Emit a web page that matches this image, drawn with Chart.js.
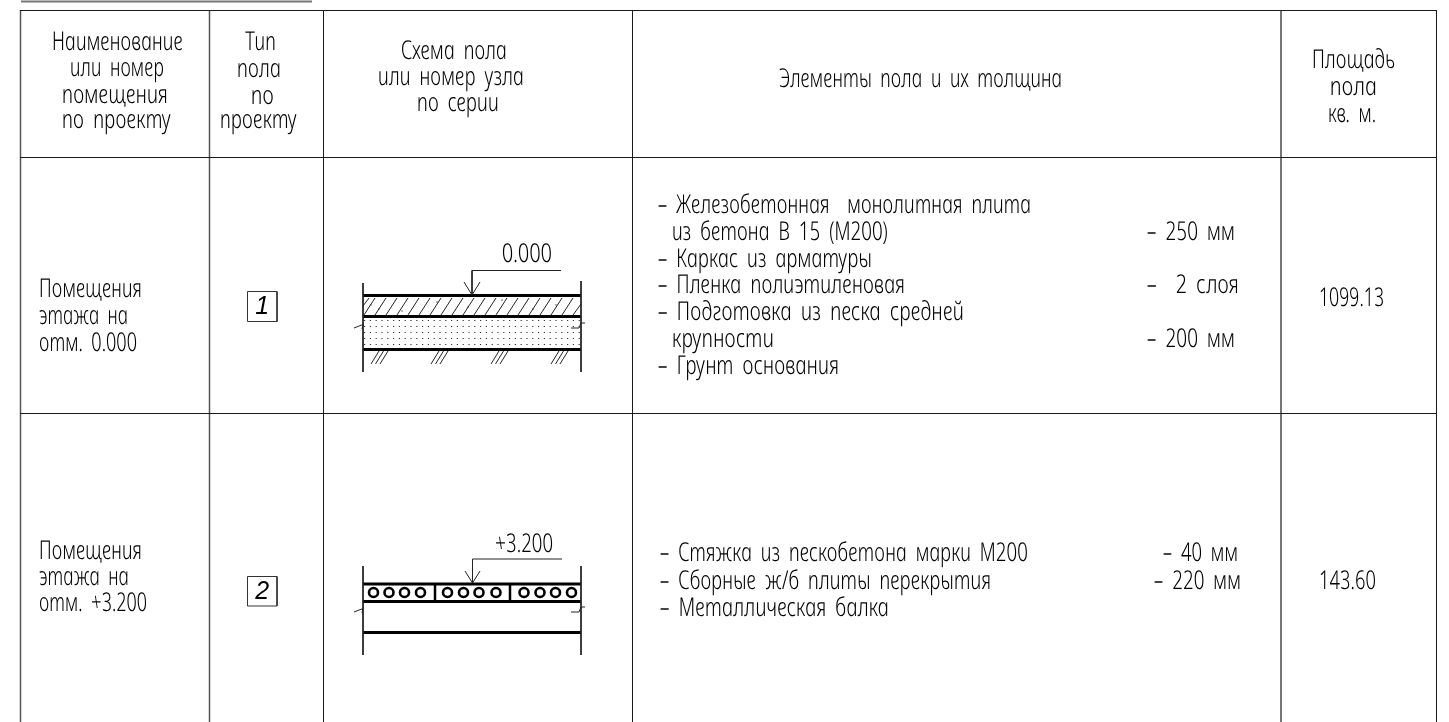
<!DOCTYPE html>
<html lang="ru"><head><meta charset="utf-8">
<style>html,body{margin:0;padding:0;background:#fff}canvas{display:block}</style>
<script src="https://cdn.jsdelivr.net/npm/chart.js@4/dist/chart.umd.min.js"></script>
</head><body><canvas id="c" width="1449" height="722"></canvas>
<script>
// ---------- texts ----------
const headerName = ["Наименование","или номер","помещения","по проекту"];
const headerType = ["Тип","пола","по","проекту"];
const headerScheme = ["Схема пола","или номер узла","по серии"];
const headerElements = ["Элементы пола и их толщина"];
const headerArea = ["Площадь","пола","кв. м."];
const roomNames1 = ["Помещения","этажа на","отм. 0.000"];
const roomNames2 = ["Помещения","этажа на","отм. +3.200"];
const floorTypes = ["1","2"];
const levels = ["0.000","+3.200"];
const areas = ["1099.13","143.60"];
const elements1 = ["– Железобетонная  монолитная плита","из бетона В 15 (М200)","– Каркас из арматуры","– Пленка полиэтиленовая","– Подготовка из песка средней","крупности","– Грунт основания"];
const thickness1 = ["– 250 мм","–  2 слоя","– 200 мм"];
const elements2 = ["– Стяжка из пескобетона марки М200","– Сборные ж/б плиты перекрытия","– Металлическая балка"];
const thickness2 = ["– 40 мм","– 220 мм"];
// ---------- drawing values ----------
const gridDark = [[20,10.5,1436,10.5],[20,157.5,1436,157.5],[20,413.5,1436,413.5],[323.5,10,323.5,722],[632.5,10,632.5,722],[1436.5,10,1436.5,722]];
const gridSoft = [[20.5,10,20.5,722],[209.5,10,209.5,722]];
const gridHeavy = [[1281,10,1281,722],[21,1.5,312,1.5]];
const thickLines = [[363,295.5,581,295.5],[363,316.5,581,316.5],[363,349.5,581,349.5],[363,584,581,584],[363,601.5,581,601.5],[363,632.5,581,632.5]];
const thinLines = [[363,283,363,372],[581,281,581,372],[363,566,363,655],[581,566,581,655],
 [472,270.5,561,270.5],[472,270.5,472,295],[464,282,472,295],[480,282,472,295],
 [472.5,559,562,559],[472.5,559,472.5,583],[465,571,472.5,583],[480,571,472.5,583],
 [354,328,363,324.5],[363,324.5,362,329],[581,323,579,328],[579,328,571,328],[581,323,585,323],
 [354,612,363,608.5],[363,608.5,362,613],[581,607,579,612],[579,612,571,612],[581,607,585,607]];
const dividers = [[435,585,435,601],[510,585,510,601]];
const hatchBottom = [364,375,386,397,408,419,430,441,452,463,474,485,496,507,518,529,540,551,562];
const soilStart = [371,375.5,380,431,435.5,440,491,495.5,500,551,555.5,560];
const sandRows = [320.5,326.5,332.5,338.5,344.5];
const voidX = [373.5,389,404.5,420.5,447.5,463.5,479,496,524,540,555.5,571.5];
const hatchDotX = [371,379,402,437,468,502,533,556];
const hatchDotY = [305,309,311,302,307,300,309,305];
const typeBoxes = [[247.5,291.5,277,321.5],[247.5,576.5,277,606]];
// ---------- text layout: [first x, last x, baseline] per line ----------
const gap = {x:null,y:null};
const lines = s => s.flatMap(a=>[{x:a[0],y:a[1]},{x:a[2],y:a[3]},gap]);
const txt = (list,spec)=>list.map((t,i)=>({t,x0:spec[i][0],x1:spec[i][1],y:spec[i][2]}));
const textItems = [
 ...txt(headerName,[[53,184,50],[71,165,76],[63,169,103],[63,172,128]]),
 ...txt(headerType,[[246,277,50],[238,282,77],[252,275,104],[221,298,128]]),
 ...txt(headerScheme,[[402,508,59],[379,525,85],[418,500,111]]),
 ...txt(headerElements,[[780,1063,87]]),
 ...txt(headerArea,[[1313,1396,68],[1331,1378,95],[1329,1377,122]]),
 ...txt(roomNames1,[[40,143,297],[40,129,324],[40,138,351]]),
 ...txt(roomNames2,[[40,143,559],[40,130,585],[40,148,611]]),
 ...txt(levels,[[503,553,262],[496,554,552]]),
 ...txt(areas,[[1320,1385,306],[1320,1377,589]]),
 ...txt(elements1,[[659,1032,213],[673,889,240],[659,873,267],[659,906,293],[659,965,320],[673,775,347],[659,840,374]]),
 ...txt(thickness1,[[1148,1236,240],[1148,1240,293],[1148,1236,347]]),
 ...txt(elements2,[[661,1029,561],[661,992,589],[661,890,616]]),
 ...txt(thickness2,[[1164,1239,561],[1155,1242,589]])
];
const line = (data,w,c,extra={})=>Object.assign({type:'scatter',showLine:true,data,borderColor:c,borderWidth:w,pointRadius:0,spanGaps:false,tension:0,borderCapStyle:'butt'},extra);
const hatch = hatchBottom.map(x=>[x,315,x+11,298]).concat([[363,306,369,298],[573,315,581,304]]);
const soil = soilStart.map(x=>[x,364,x+8,351]);
const sand = sandRows.map(y=>[364,y,581,y]);
const boxSegs = typeBoxes.flatMap(b=>[[b[0],b[1],b[2],b[1]],[b[2],b[1],b[2],b[3]],[b[2],b[3],b[0],b[3]],[b[0],b[3],b[0],b[1]]]);
const textPlugin = {id:'drawingText',afterDatasetsDraw(ch){
  const {ctx,scales:{x,y}} = ch;
  ctx.save();ctx.fillStyle='#000';ctx.textBaseline='alphabetic';
  textItems.forEach(it=>{
    ctx.save();ctx.font='italic 300 26px "Noto Sans"';ctx.textAlign='left';ctx.wordSpacing='5px';
    const sx=(it.x1-it.x0)/ctx.measureText(it.t).width;
    ctx.setTransform(sx,0,sx*0.21,1,x.getPixelForValue(it.x0),y.getPixelForValue(it.y));
    ctx.fillText(it.t,0,0);ctx.restore();
  });
  ctx.font='italic 25px "Liberation Sans"';ctx.textAlign='center';
  floorTypes.forEach((t,i)=>{const b=typeBoxes[i];
    ctx.fillText(t,x.getPixelForValue((b[0]+b[2])/2),y.getPixelForValue(b[3]-7.5));});
  ctx.restore();
}};
new Chart(document.getElementById('c'),{
 type:'scatter',
 data:{datasets:[
  line(lines(gridDark),1,'#1a1a1a'),
  line(lines(gridSoft),1.5,'#555'),
  line(lines(gridHeavy),2,'#777'),
  line(lines(sand),1,'#333',{borderDash:[1.2,4.6]}),
  line(lines(hatch),1,'#222'),
  line(lines(soil),1,'#222'),
  line(lines(thinLines),1,'#222'),
  line(lines(boxSegs),1,'#333'),
  line(lines(dividers),2.5,'#000'),
  line(lines(thickLines),3.2,'#000'),
  {type:'scatter',data:voidX.map(v=>({x:v,y:592.5})),pointStyle:'circle',pointRadius:4.5,borderWidth:2.6,pointBorderColor:'#000',pointBackgroundColor:'#fff',showLine:false},
  {type:'scatter',data:hatchDotX.map((v,i)=>({x:v,y:hatchDotY[i]})),pointRadius:0.7,pointBorderWidth:0,pointBackgroundColor:'#333',showLine:false}
 ]},
 options:{responsive:false,animation:false,devicePixelRatio:1,layout:{padding:0,autoPadding:false},
  plugins:{legend:{display:false},tooltip:{enabled:false},title:{display:false}},
  scales:{x:{type:'linear',min:0,max:1449,display:false},y:{type:'linear',min:0,max:722,reverse:true,display:false}}},
 plugins:[textPlugin]
});
</script></body></html>
